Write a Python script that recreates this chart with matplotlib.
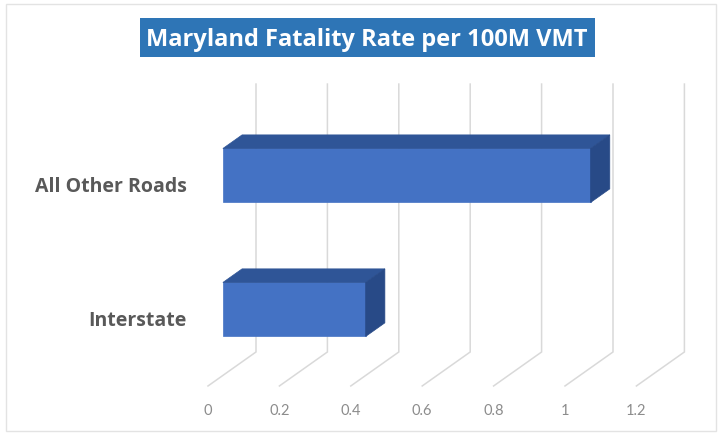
import matplotlib
matplotlib.use("Agg")
import matplotlib.pyplot as plt
from matplotlib.patches import Polygon, Rectangle

plt.rcParams['font.family'] = ['Open Sans', 'DejaVu Sans']

title = "Maryland Fatality Rate per 100M VMT"
categories = ["Interstate", "All Other Roads"]
rates = [0.40, 1.03]
ticks = [0, 0.2, 0.4, 0.6, 0.8, 1, 1.2]
tick_labels = ["0", "0.2", "0.4", "0.6", "0.8", "1", "1.2"]

# oblique 3d look: depth vector in data units (x = rate, y = category slot)
DX = 48 / 357
DY = 34 / 134
FLOOR = -0.4925     # front edge of the floor
WALL_TOP = 1.761    # top of the back wall
D0, D1 = 0.31, 0.71 # bar front / back depth
BAR_H = 0.403

FRONT = '#4472C4'
TOP = '#2F5597'
SIDE = '#284A87'
GRID = '#D9D9D9'

fig = plt.figure(figsize=(7.22, 4.35), dpi=100)
ax = fig.add_axes([0, 0, 1, 1])
ax.set_xlim(-208 / 357, (722 - 208) / 357)
ax.set_ylim(-0.851, 2.396)
ax.axis('off')

# chart frame
fig.patches.append(Rectangle((6 / 722, 3 / 435), 710 / 722, 427 / 435,
                             transform=fig.transFigure, fill=False,
                             edgecolor='#E3E3E3', lw=1.0))

# back wall + floor grid
for t in ticks:
    ax.plot([t, t + DX, t + DX], [FLOOR, FLOOR + DY, WALL_TOP],
            color=GRID, lw=1.1, zorder=1, solid_joinstyle='miter')

for t, lab in zip(ticks, tick_labels):
    ax.text(t, -0.672, lab, ha='center', va='center', fontsize=10.5,
            color='#8C8C8C', family=['Lato', 'DejaVu Sans'])

# bars
dd = D1 - D0
for i, (cat, v) in enumerate(zip(categories, rates)):
    x0 = D0 * DX
    yc = i + D0 * DY
    bot, top = yc - BAR_H / 2, yc + BAR_H / 2
    ax.add_patch(Polygon([(x0, bot), (x0 + v, bot), (x0 + v, top), (x0, top)],
                         closed=True, facecolor=FRONT, edgecolor=FRONT,
                         lw=0.5, zorder=3))
    ax.add_patch(Polygon([(x0, top), (x0 + v, top),
                          (x0 + v + dd * DX, top + dd * DY),
                          (x0 + dd * DX, top + dd * DY)],
                         closed=True, facecolor=TOP, edgecolor=TOP,
                         lw=0.5, zorder=3))
    ax.add_patch(Polygon([(x0 + v, bot), (x0 + v, top),
                          (x0 + v + dd * DX, top + dd * DY),
                          (x0 + v + dd * DX, bot + dd * DY)],
                         closed=True, facecolor=SIDE, edgecolor=SIDE,
                         lw=0.5, zorder=3))
    ax.text(-0.06, i, cat, ha='right', va='center', fontsize=14,
            fontweight='bold', color='#595959')

# title in a blue box
fig.patches.append(Rectangle((140 / 722, 1 - 58 / 435), 455 / 722, 39 / 435,
                             transform=fig.transFigure, facecolor='#2E75B6',
                             edgecolor='none'))
fig.text(367 / 722, 1 - 39.5 / 435, title, ha='center', va='center',
         fontsize=17, fontweight='bold', color='white')

fig.savefig("out.png", dpi=100)
